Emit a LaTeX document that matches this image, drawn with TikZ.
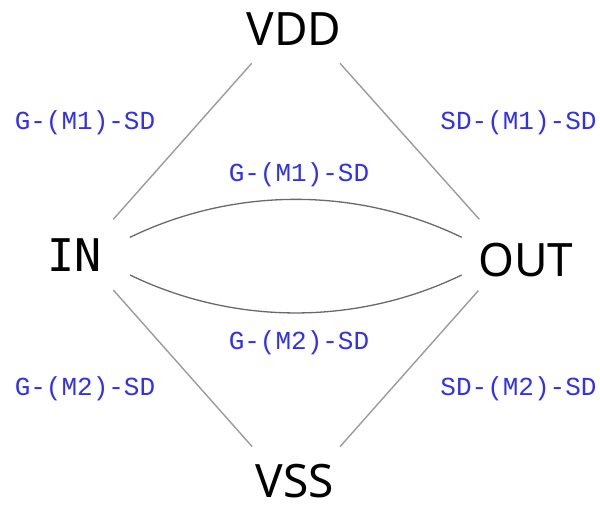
\documentclass[tikz,border=0pt]{standalone}
\usepackage{fontspec}
\usetikzlibrary{calc}
\newfontfamily\bigfam{Noto Sans}
\newfontfamily\monofam{DejaVu Sans Mono}
\newfontfamily\labfam{Liberation Mono}
\definecolor{labblue}{RGB}{48,48,240}
\definecolor{edgegray}{RGB}{155,155,155}
\definecolor{arcgray}{RGB}{105,105,105}
\tikzset{
  term/.style={anchor=base, inner sep=0pt, font={\bigfam\fontsize{46}{50}\selectfont}},
  termmono/.style={anchor=base, inner sep=0pt, font={\monofam\fontsize{45}{50}\selectfont}},
  lab/.style={anchor=base, inner sep=0pt, text=labblue, font={\labfam\fontsize{26}{30}\selectfont}},
  edge/.style={draw=edgegray, line width=1.4pt},
  arc/.style={draw=arcgray, line width=1.3pt}
}
\begin{document}
\begin{tikzpicture}[x=1pt,y=-1pt]
\useasboundingbox (0,0) rectangle (600,506);
\node[term] (vdd) at (294,45) {VDD};
\node[termmono] (in) at (75,271.7) {IN};
\node[term] (out) at (526,276.5) {OUT};
\node[term] (vss) at (295,497) {VSS};

\node[lab] (l1) at (85,129) {G-(M1)-SD};
\node[lab] (l2) at (518.5,129.5) {SD-(M1)-SD};
\node[lab] (l3) at (299,181.5) {G-(M1)-SD};
\node[lab] (l4) at (299,349) {G-(M2)-SD};
\node[lab] (l5) at (85,395.5) {G-(M2)-SD};
\node[lab] (l6) at (518.5,395.5) {SD-(M2)-SD};

\draw[edge] ($(vdd.base)+(-42.3,18.3)$) -- ($(in.base)+(38.3,-52.4)$);
\draw[edge] ($(vdd.base)+(46,18.3)$) -- ($(out.base)+(-46.7,-57.2)$);
\draw[edge] ($(in.base)+(38.3,18.3)$) -- ($(vss.base)+(-42.8,-50.3)$);
\draw[edge] ($(out.base)+(-47.7,14.2)$) -- ($(vss.base)+(45,-50.3)$);

\draw[arc] ($(in.base)+(55,-34.4)$) .. controls (234.7,186.7) and (357,186.7) .. ($(out.base)+(-64.3,-39.2)$);
\draw[arc] ($(in.base)+(55,3.3)$) .. controls (234.7,325.6) and (357,325.6) .. ($(out.base)+(-64.3,-1.5)$);
\end{tikzpicture}
\end{document}
